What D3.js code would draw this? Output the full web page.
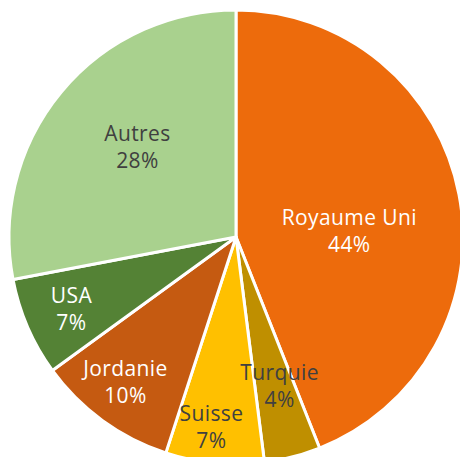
<!DOCTYPE html>
<html><head><meta charset="utf-8">
<script src="https://cdn.jsdelivr.net/npm/d3@7"></script>
<style>html,body{margin:0;padding:0;background:#fff;overflow:hidden}</style>
</head><body>
<svg id="chart" width="460" height="457"></svg>
<script>
const categories = ["Royaume Uni", "Turquie", "Suisse", "Jordanie", "USA", "Autres"];
const values = [44, 4, 7, 10, 7, 28];
const percentLabels = ["44%", "4%", "7%", "10%", "7%", "28%"];

const colors = ["#ED6B0C", "#BF8F00", "#FFC000", "#C55A11", "#548235", "#A9D18E"];
const textColors = ["#ffffff", "#404040", "#404040", "#ffffff", "#ffffff", "#404040"];
// layout tweaks for label placement (radius fraction, angle offset in degrees)
const labelLayout = [[0.50, 7.5], [0.68, -2], [0.84, 2], [0.80, 1.5], [0.79, 0], [0.59, 3]];

const svg = d3.select("#chart");
const cx = 236, cy = 237, r = 227;
const g = svg.append("g").attr("transform", `translate(${cx},${cy})`);

const pie = d3.pie().sort(null).value(d => d.v);
const data = categories.map((c, i) => ({c, v: values[i], p: percentLabels[i], i}));
const arcs = pie(data);
const arc = d3.arc().innerRadius(0).outerRadius(r);

g.selectAll("path").data(arcs).enter().append("path")
  .attr("d", arc)
  .attr("fill", d => colors[d.data.i])
  .attr("stroke", "#fff")
  .attr("stroke-width", 3)
  .attr("stroke-linejoin", "round");

const fs = 21;
arcs.forEach(d => {
  const [rf, da] = labelLayout[d.data.i];
  const a = (d.startAngle + d.endAngle) / 2 + da * Math.PI / 180;
  const x = Math.sin(a) * r * rf;
  const y = -Math.cos(a) * r * rf;
  const t = g.append("text")
    .attr("x", x).attr("y", y)
    .attr("text-anchor", "middle")
    .attr("font-family", "'Open Sans', sans-serif")
    .attr("font-size", fs)
    .attr("letter-spacing", "0.4px")
    .attr("fill", textColors[d.data.i]);
  t.append("tspan").attr("x", x).attr("dy", "-0.24em").text(d.data.c);
  t.append("tspan").attr("x", x).attr("dy", "1.28em").text(d.data.p);
});
</script>
</body></html>
